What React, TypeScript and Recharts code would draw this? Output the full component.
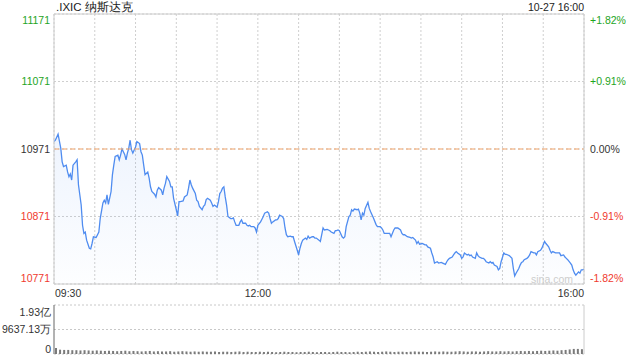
import React from "react";
import {
  AreaChart,
  Area,
  BarChart,
  Bar,
  XAxis,
  YAxis,
  CartesianGrid,
  ReferenceLine,
} from "recharts";

// ---- data ----
const priceMinutes = [
  0, 1, 3, 5, 6, 7, 9, 10, 11, 12,
  13, 14, 16, 17, 18, 20, 21, 22, 23, 24,
  26, 27, 28, 29, 31, 33, 34, 36, 37, 38,
  39, 40, 42, 43, 44, 45, 47, 48, 49, 50,
  52, 53, 54, 55, 56, 57, 58, 60, 61, 63,
  64, 65, 66, 67, 69, 70, 71, 72, 74, 75,
  76, 77, 79, 80, 81, 82, 83, 85, 86, 87,
  88, 90, 91, 92, 93, 95, 96, 98, 99, 100,
  101, 102, 104, 105, 106, 107, 109, 110, 111, 112,
  113, 115, 116, 117, 118, 120, 121, 122, 123, 124,
  125, 126, 127, 128, 130, 131, 132, 133, 134, 136,
  137, 138, 139, 141, 142, 143, 144, 145, 147, 148,
  149, 150, 152, 153, 154, 155, 157, 158, 159, 160,
  161, 163, 164, 165, 166, 168, 169, 170, 171, 172,
  174, 175, 176, 177, 179, 180, 181, 182, 183, 185,
  186, 187, 188, 190, 191, 192, 193, 195, 196, 197,
  198, 199, 201, 202, 203, 204, 206, 207, 208, 209,
  210, 212, 213, 214, 215, 217, 218, 219, 220, 221,
  223, 224, 225, 226, 227, 228, 229, 231, 232, 233,
  235, 237, 238, 240, 241, 242, 243, 245, 247, 248,
  250, 251, 253, 255, 256, 257, 258, 260, 262, 263,
  264, 266, 267, 268, 269, 271, 272, 273, 274, 275,
  277, 278, 279, 280, 282, 283, 285, 286, 288, 289,
  290, 291, 293, 294, 295, 296, 297, 299, 300, 301,
  302, 304, 305, 306, 307, 308, 310, 311, 312, 313,
  315, 316, 317, 318, 320, 321, 322, 323, 324, 326,
  327, 328, 329, 331, 332, 333, 334, 335, 337, 338,
  339, 340, 342, 343, 344, 345, 346, 348, 349, 350,
  351, 353, 354, 355, 356, 358, 359, 360, 361, 362,
  364, 365, 366, 367, 369, 370, 371, 372, 373, 375,
  376, 377, 378, 380, 381, 382, 383, 384, 386, 387,
  388, 389, 390,
];

const priceValues = [
  10982, 10984, 10993, 10972, 10952, 10945, 10947, 10937, 10930, 10934,
  10925, 10947, 10952, 10955, 10918, 10888, 10858, 10846, 10848, 10836,
  10824, 10823, 10831, 10841, 10840, 10848, 10868, 10891, 10895, 10891,
  10903, 10889, 10908, 10933, 10947, 10960, 10962, 10955, 10962, 10971,
  10963, 10955, 10965, 10972, 10984, 10970, 10965, 10974, 10982, 10979,
  10967, 10962, 10947, 10933, 10937, 10928, 10915, 10908, 10904, 10900,
  10910, 10914, 10910, 10903, 10913, 10920, 10930, 10923, 10915, 10915,
  10898, 10881, 10872, 10893, 10893, 10894, 10900, 10903, 10913, 10925,
  10918, 10913, 10905, 10895, 10893, 10886, 10881, 10886, 10888, 10896,
  10898, 10895, 10891, 10886, 10888, 10885, 10893, 10905, 10908, 10913,
  10915, 10900, 10888, 10871, 10868, 10868, 10869, 10863, 10858, 10858,
  10863, 10866, 10861, 10861, 10858, 10857, 10858, 10856, 10856, 10854,
  10848, 10858, 10863, 10867, 10871, 10876, 10878, 10876, 10868, 10861,
  10863, 10866, 10866, 10868, 10873, 10871, 10868, 10854, 10844, 10841,
  10842, 10841, 10841, 10834, 10821, 10814, 10824, 10831, 10836, 10839,
  10837, 10842, 10839, 10841, 10841, 10839, 10839, 10836, 10834, 10844,
  10854, 10851, 10852, 10851, 10850, 10848, 10846, 10850, 10850, 10851,
  10850, 10841, 10839, 10841, 10856, 10871, 10873, 10881, 10879, 10882,
  10881, 10882, 10876, 10866, 10876, 10873, 10883, 10892, 10883, 10878,
  10869, 10859, 10856, 10856, 10854, 10851, 10846, 10846, 10846, 10841,
  10851, 10854, 10854, 10851, 10846, 10844, 10844, 10841, 10840, 10839,
  10840, 10836, 10831, 10834, 10830, 10831, 10830, 10829, 10829, 10826,
  10824, 10817, 10811, 10802, 10804, 10802, 10803, 10802, 10800, 10804,
  10807, 10809, 10811, 10814, 10817, 10819, 10817, 10814, 10809, 10811,
  10817, 10814, 10815, 10813, 10814, 10811, 10809, 10817, 10813, 10811,
  10809, 10809, 10807, 10804, 10802, 10804, 10802, 10803, 10799, 10797,
  10792, 10794, 10804, 10817, 10815, 10815, 10814, 10813, 10809, 10794,
  10783, 10787, 10794, 10799, 10803, 10804, 10807, 10809, 10811, 10814,
  10819, 10817, 10817, 10814, 10819, 10821, 10824, 10829, 10834, 10831,
  10826, 10821, 10817, 10819, 10817, 10817, 10817, 10817, 10813, 10814,
  10811, 10809, 10807, 10802, 10799, 10792, 10787, 10784, 10789, 10787,
  10792, 10792, 10793,
];

// volume in millions of shares, one bar per 3 minutes
const volumes = [
  24, 17, 16, 16, 15, 15, 14, 15, 14, 13,
  14, 13, 12, 13, 12, 11, 12, 13, 11, 12,
  11, 10, 11, 12, 10, 11, 10, 10, 11, 9,
  10, 11, 10, 9, 10, 9, 10, 9, 9, 10,
  8, 9, 9, 8, 9, 10, 8, 9, 8, 8,
  9, 8, 9, 8, 7, 8, 9, 8, 8, 7,
  8, 8, 9, 8, 7, 8, 8, 7, 8, 9,
  8, 8, 7, 8, 9, 8, 9, 10, 9, 8,
  9, 10, 9, 8, 9, 9, 8, 9, 10, 9,
  9, 8, 9, 10, 9, 10, 9, 9, 10, 11,
  10, 9, 10, 10, 9, 10, 11, 10, 10, 11,
  10, 11, 10, 11, 12, 11, 12, 11, 12, 13,
  12, 13, 14, 13, 15, 16, 18, 20, 20, 19,
];

const prevClose = 10971;
const priceTicks = [10771, 10871, 10971, 11071, 11171];
const timeTicks = [0, 30, 60, 90, 120, 150, 180, 210, 240, 270, 300, 330, 360, 390];
const timeLabels: Record<number, string> = { 0: "09:30", 150: "12:00", 390: "16:00" };
const volMax = 192.7426;
const volTicks = [0, 96.3713, 192.7426];
const volLabels = ["0", "9637.13万", "1.93亿"];

const title = ".IXIC 纳斯达克";
const stamp = "10-27 16:00";

const priceData = priceMinutes.map((t, i) => ({ t, v: priceValues[i] }));
const volData = volumes.map((vol, i) => ({ i, vol }));

const FONT = '"Liberation Sans", Arial, Helvetica, sans-serif';
const GREEN = "#1ea51e";
const RED = "#f03a2e";
const BLACK = "#333333";
const LINE = "#4f8cf0";

const colorFor = (v: number) => (v > prevClose ? GREEN : v < prevClose ? RED : BLACK);

const edgeShift = (v: number) =>
  v === priceTicks[priceTicks.length - 1] ? 6 : v === priceTicks[0] ? -6 : 0;

const pctLabel = (v: number) => {
  const pct = ((v - prevClose) / prevClose) * 100;
  return (pct > 0.0001 ? "+" : "") + pct.toFixed(2) + "%";
};

// draws the price on the left and the change in percent on the right
const PriceTick = (props: any) => {
  const { y, payload } = props;
  const v = payload.value;
  const yy = y + edgeShift(v);
  return (
    <g>
      <text
        x={50}
        y={yy}
        dy="0.35em"
        textAnchor="end"
        fontSize={10.5}
        fontFamily={FONT}
        fill={colorFor(v)}
      >
        {v}
      </text>
      <text
        x={590}
        y={yy}
        dy="0.35em"
        textAnchor="start"
        fontSize={10.5}
        fontFamily={FONT}
        fill={colorFor(v)}
      >
        {pctLabel(v)}
      </text>
    </g>
  );
};

const XTick = (props: any) => {
  const { x, payload } = props;
  const label = timeLabels[payload.value];
  if (!label) return null;
  const anchor = payload.value === 0 ? "start" : payload.value === 390 ? "end" : "middle";
  return (
    <text
      x={payload.value === 0 ? x + 1 : x}
      y={297}
      textAnchor={anchor}
      fontSize={10.5}
      fontFamily={FONT}
      fill={BLACK}
    >
      {label}
    </text>
  );
};

const VolTick = (props: any) => {
  const { y, payload } = props;
  const idx = volTicks.indexOf(payload.value);
  const shift = idx === 2 ? 7 : idx === 0 ? -5 : 0;
  return (
    <text
      x={51}
      y={y + shift}
      dy="0.35em"
      textAnchor="end"
      fontSize={10.5}
      fontFamily={FONT}
      fill={BLACK}
    >
      {volLabels[idx]}
    </text>
  );
};

export default function App() {
  return (
    <div
      style={{
        position: "fixed",
        left: 0,
        top: 0,
        width: 640,
        height: 360,
        background: "#ffffff",
        fontFamily: FONT,
        overflow: "hidden",
      }}
    >
      <div
        style={{
          position: "absolute",
          left: 56,
          top: 0,
          fontSize: 11.5,
          lineHeight: "14px",
          color: "#222",
          whiteSpace: "nowrap",
        }}
      >
        {title}
      </div>
      <div
        style={{
          position: "absolute",
          right: 56,
          top: 0,
          fontSize: 10.5,
          lineHeight: "14px",
          color: "#222",
          whiteSpace: "nowrap",
        }}
      >
        {stamp}
      </div>

      <div style={{ position: "absolute", left: 0, top: 0 }}>
        <AreaChart
          width={640}
          height={300}
          data={priceData}
          margin={{ top: 14, right: 0, bottom: 0, left: 0 }}
        >
          <defs>
            <linearGradient id="priceFill" x1="0" y1="0" x2="0" y2="1">
              <stop offset="0%" stopColor={LINE} stopOpacity={0.16} />
              <stop offset="100%" stopColor={LINE} stopOpacity={0.02} />
            </linearGradient>
          </defs>
          <CartesianGrid yAxisId="l" stroke="#cfcfcf" strokeDasharray="2 2" />
          <XAxis
            dataKey="t"
            type="number"
            domain={[0, 390]}
            ticks={timeTicks}
            interval={0}
            height={16}
            tickLine={false}
            axisLine={{ stroke: "#cccccc" }}
            tick={<XTick />}
          />
          <YAxis
            yAxisId="l"
            orientation="left"
            width={54}
            domain={[priceTicks[0], priceTicks[priceTicks.length - 1]]}
            ticks={priceTicks}
            interval={0}
            tickLine={false}
            axisLine={{ stroke: "#cccccc" }}
            tick={<PriceTick />}
          />
          <YAxis
            yAxisId="r"
            orientation="right"
            width={56}
            domain={[priceTicks[0], priceTicks[priceTicks.length - 1]]}
            tick={false}
            tickLine={false}
            axisLine={{ stroke: "#cccccc" }}
          />
          <ReferenceLine yAxisId="l" y={priceTicks[priceTicks.length - 1]} stroke="#cccccc" />
          <ReferenceLine yAxisId="l" y={prevClose} stroke="#f2a266" strokeDasharray="5 3" />
          <Area
            yAxisId="l"
            type="linear"
            dataKey="v"
            stroke={LINE}
            strokeWidth={1.3}
            fill="url(#priceFill)"
            dot={false}
            activeDot={false}
            isAnimationActive={false}
          />
        </AreaChart>
      </div>

      <div
        style={{
          position: "absolute",
          left: 531,
          top: 272,
          fontSize: 10.5,
          lineHeight: "14px",
          color: "#cdcdcd",
          whiteSpace: "nowrap",
        }}
      >
        sina.com
      </div>

      <div style={{ position: "absolute", left: 0, top: 300 }}>
        <BarChart
          width={640}
          height={60}
          data={volData}
          margin={{ top: 5, right: 0, bottom: 6, left: 0 }}
          barCategoryGap={1}
        >
          <CartesianGrid
            yAxisId="vl"
            vertical={false}
            stroke="#c8c8c8"
            strokeDasharray="2 2"
          />
          <XAxis dataKey="i" hide />
          <YAxis
            yAxisId="vl"
            orientation="left"
            width={54}
            domain={[0, volMax]}
            ticks={volTicks}
            interval={0}
            tickLine={false}
            axisLine={{ stroke: "#666666" }}
            tick={<VolTick />}
          />
          <YAxis
            yAxisId="vr"
            orientation="right"
            width={56}
            domain={[0, volMax]}
            tick={false}
            tickLine={false}
            axisLine={{ stroke: "#cccccc" }}
          />
          <Bar
            yAxisId="vl"
            dataKey="vol"
            fill="#7a7a7a"
            barSize={2}
            isAnimationActive={false}
          />
        </BarChart>
      </div>
    </div>
  );
}
